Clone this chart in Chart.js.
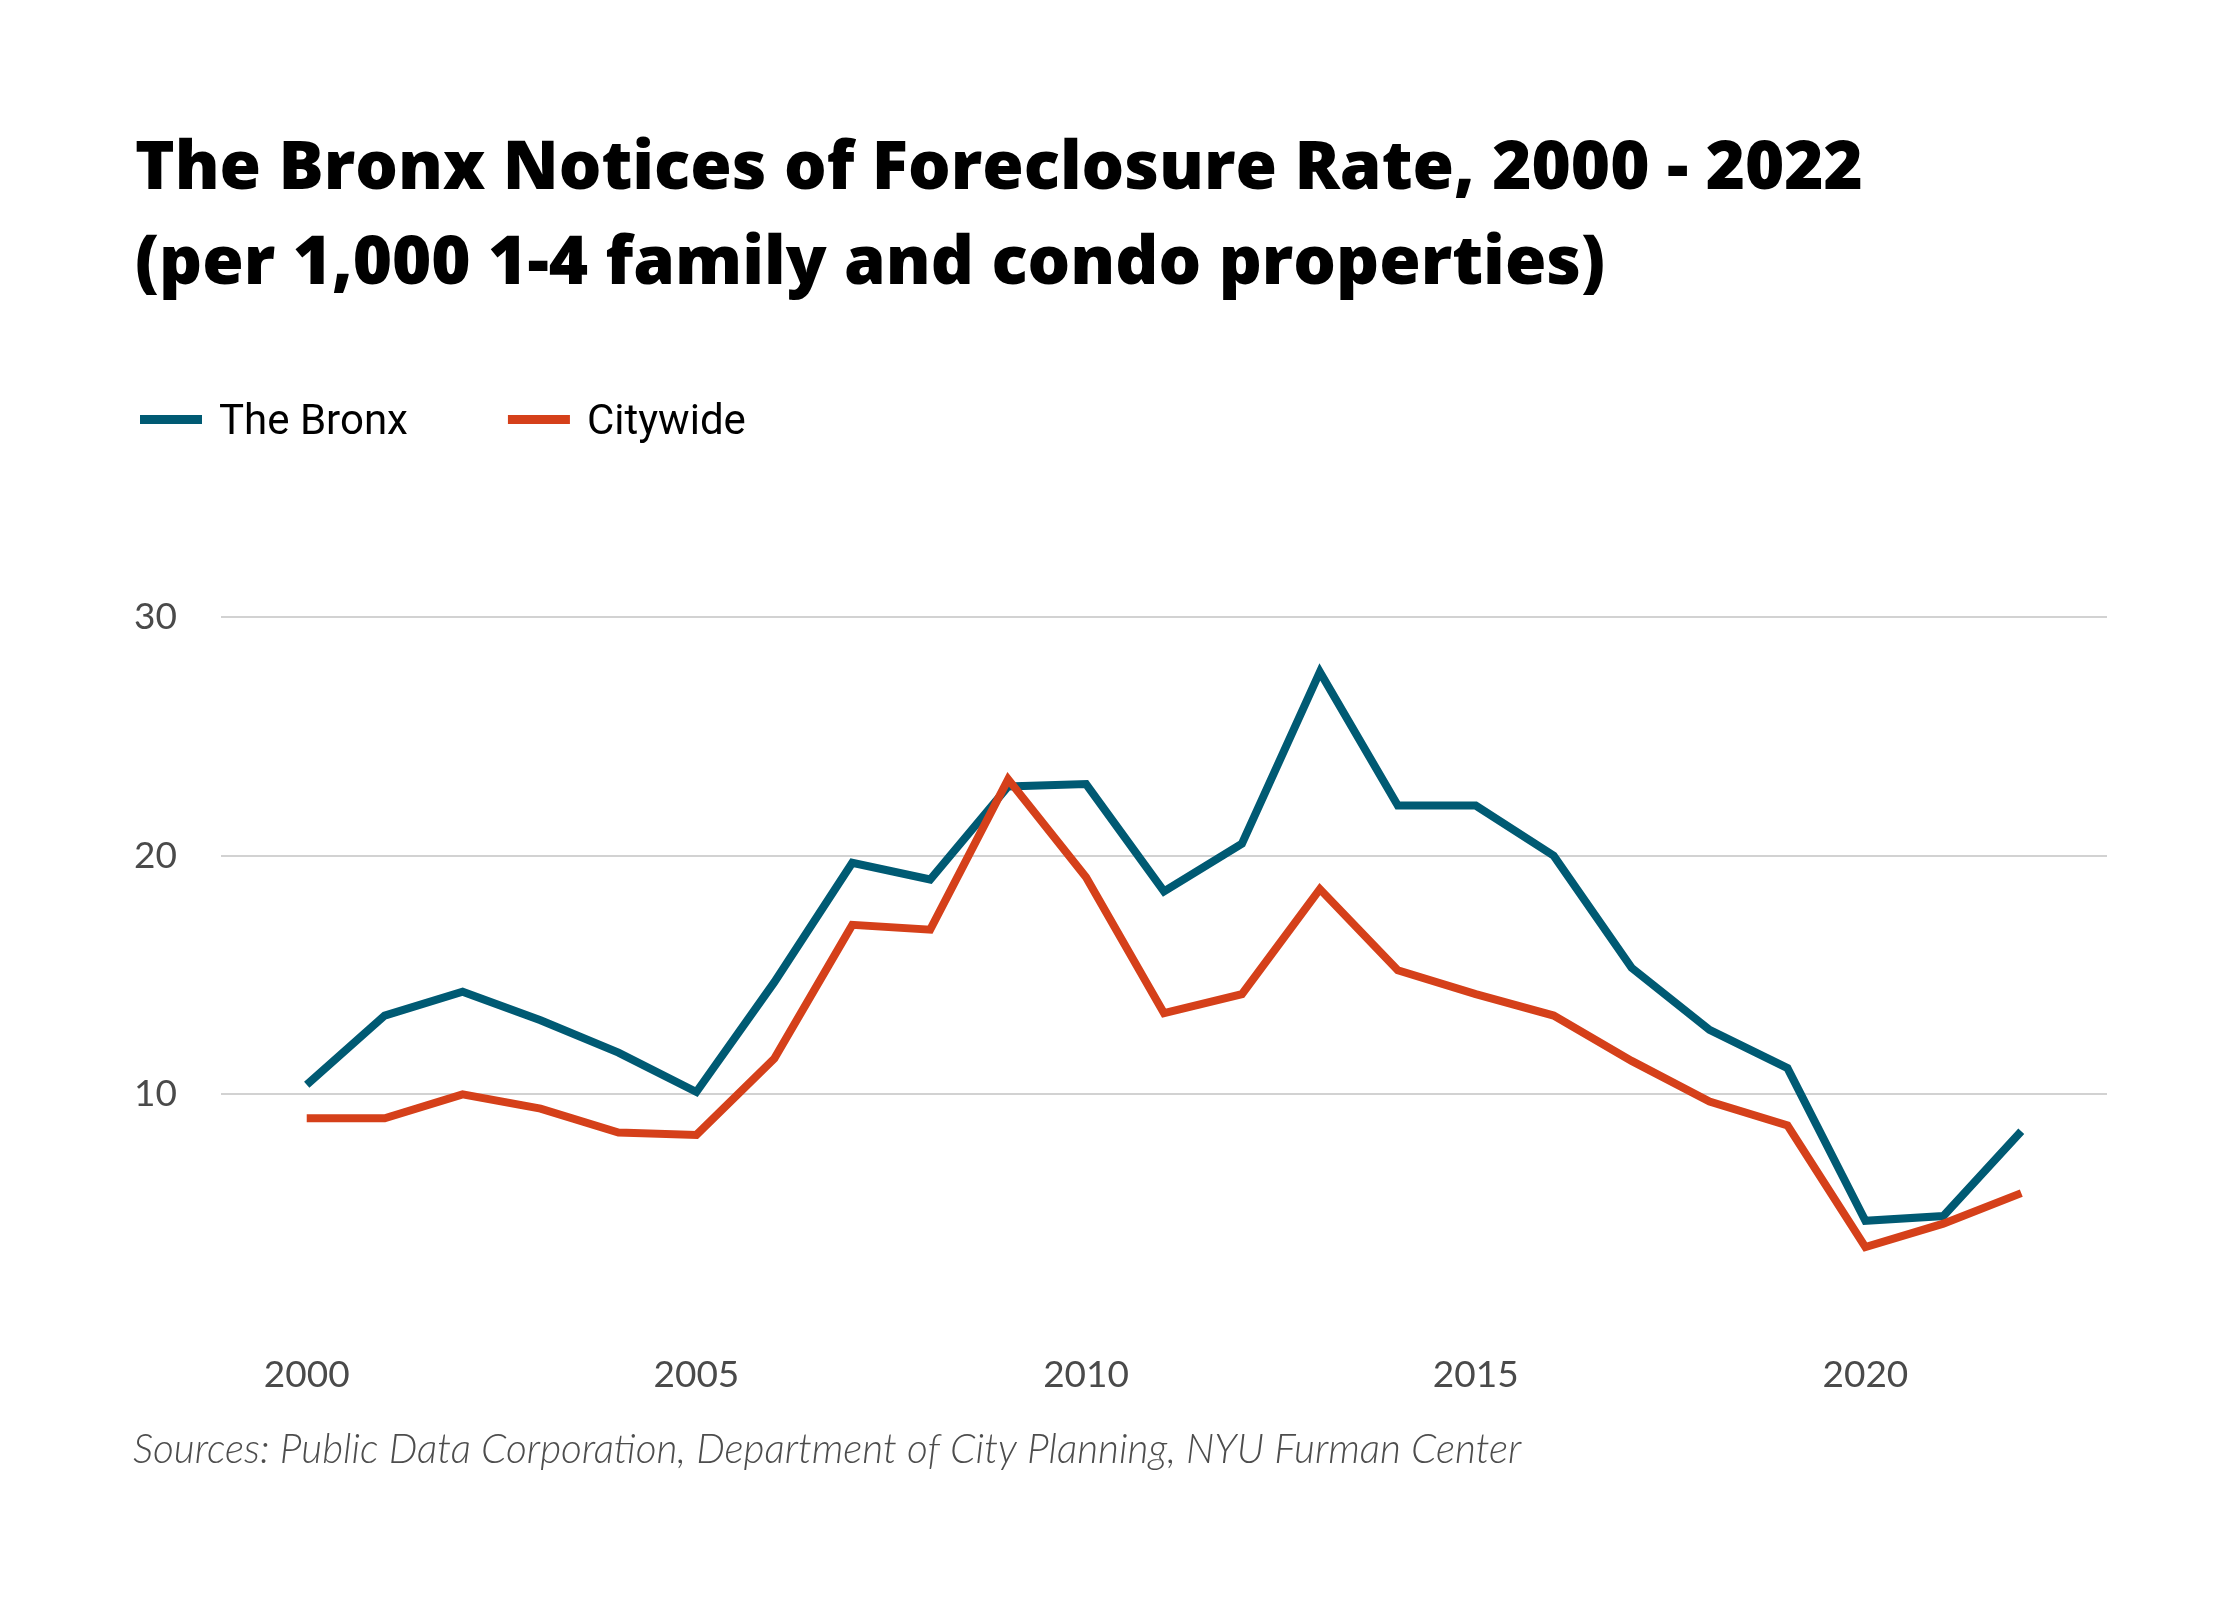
<!DOCTYPE html>
<html>
<head>
<meta charset="utf-8">
<script src="https://cdn.jsdelivr.net/npm/chart.js@4"></script>
<style>
  html, body { margin: 0; padding: 0; background: #ffffff; }
  #wrap { position: relative; width: 2240px; height: 1600px; }
  canvas { display: block; }
</style>
</head>
<body>
<div id="wrap"><canvas id="c" width="2240" height="1600"></canvas></div>
<script>
// ---- data ----
const years = [2000,2001,2002,2003,2004,2005,2006,2007,2008,2009,2010,2011,2012,2013,2014,2015,2016,2017,2018,2019,2020,2021,2022];
const bronx = [10.4,13.3,14.3,13.1,11.75,10.1,14.7,19.7,19.0,22.9,23.0,18.5,20.5,27.7,22.1,22.1,20.0,15.3,12.7,11.1,4.7,4.9,8.45];
const citywide = [9.0,9.0,10.0,9.4,8.4,8.3,11.5,17.1,16.9,23.2,19.1,13.4,14.2,18.6,15.2,14.2,13.3,11.4,9.7,8.7,3.6,4.58,5.86];
const xTickYears = [2000,2005,2010,2015,2020];
const yTickValues = [10,20,30];
const seriesNames = ['The Bronx','Citywide'];
const titleLines = ['The Bronx Notices of Foreclosure Rate, 2000 - 2022','(per 1,000 1-4 family and condo properties)'];
const sourceText = 'Sources: Public Data Corporation, Department of City Planning, NYU Furman Center';

const COLORS = { bronx: '#005a73', city: '#d5401a', grid: '#d2d2d2', tick: '#4a4a4a' };

function toPoints(arr){ return years.map((yr,i)=>({x: yr, y: arr[i]})); }

function fitSize(ctx, text, spec, family, targetW, base){
  ctx.font = spec + ' ' + base + 'px ' + family;
  const w = ctx.measureText(text).width;
  return base * targetW / w;
}

const decor = {
  id: 'decor',
  afterDraw(chart){
    const ctx = chart.ctx;
    ctx.save();
    // title
    const tFam = '"Open Sans", Lato, sans-serif';
    const tSize = fitSize(ctx, titleLines[0], '800', tFam, 1728, 68);
    ctx.font = '800 ' + tSize + 'px ' + tFam;
    ctx.fillStyle = '#000000';
    ctx.textBaseline = 'alphabetic';
    ctx.textAlign = 'left';
    ctx.fillText(titleLines[0], 135, 189);
    ctx.fillText(titleLines[1], 135, 284);
    // legend (from datasets)
    const lFam = 'Roboto, "Noto Sans", sans-serif';
    const lSize = fitSize(ctx, seriesNames[0], 'normal', lFam, 189, 44);
    ctx.font = 'normal ' + lSize + 'px ' + lFam;
    let x = 140;
    const legendOrder = [0,1];
    legendOrder.forEach(idx => {
      const ds = chart.data.datasets[idx];
      ctx.fillStyle = ds.borderColor;
      ctx.fillRect(x, 415, 62, 9);
      ctx.fillStyle = '#000000';
      ctx.fillText(ds.label, x + 79, 434);
      x = x + 79 + ctx.measureText(ds.label).width + 100;
    });
    // source
    const sFam = 'Lato, "Open Sans", sans-serif';
    const sSize = fitSize(ctx, sourceText, 'italic 300', sFam, 1389, 36);
    ctx.font = 'italic 300 ' + sSize + 'px ' + sFam;
    ctx.fillStyle = '#4d4d4d';
    ctx.fillText(sourceText, 133, 1463);
    ctx.restore();
  }
};

new Chart(document.getElementById('c'), {
  type: 'line',
  data: {
    datasets: [
      { label: seriesNames[0], data: toPoints(bronx), borderColor: COLORS.bronx, backgroundColor: COLORS.bronx,
        borderWidth: 8, pointRadius: 0, pointHoverRadius: 0, tension: 0, borderJoinStyle: 'miter', borderCapStyle: 'butt', order: 1 },
      { label: seriesNames[1], data: toPoints(citywide), borderColor: COLORS.city, backgroundColor: COLORS.city,
        borderWidth: 8, pointRadius: 0, pointHoverRadius: 0, tension: 0, borderJoinStyle: 'miter', borderCapStyle: 'butt', order: 0 }
    ]
  },
  options: {
    responsive: false,
    devicePixelRatio: 1,
    animation: false,
    events: [],
    layout: { padding: { left: 0, right: 133, top: 617, bottom: 187 } },
    plugins: { legend: { display: false }, title: { display: false }, tooltip: { enabled: false } },
    scales: {
      x: {
        type: 'linear', min: 1998.9, max: 2023.1,
        afterBuildTicks: (s) => { s.ticks = xTickYears.map(v => ({ value: v })); },
        afterFit: (s) => { s.height = 80; },
        grid: { display: false, drawTicks: false },
        border: { display: false },
        ticks: { padding: 20, color: COLORS.tick, font: { family: 'Lato, "Open Sans", sans-serif', size: 37 },
                 maxRotation: 0, autoSkip: false, callback: (v) => String(v) }
      },
      y: {
        min: 0, max: 30,
        afterBuildTicks: (s) => { s.ticks = [0].concat(yTickValues).map(v => ({ value: v })); },
        afterFit: (s) => { s.width = 221; },
        grid: { drawTicks: false, lineWidth: 2, color: (c) => (c.tick && c.tick.value === 0) ? 'rgba(0,0,0,0)' : COLORS.grid },
        border: { display: false },
        ticks: { padding: 44, color: COLORS.tick, font: { family: 'Lato, "Open Sans", sans-serif', size: 37 },
                 callback: (v) => v === 0 ? '' : String(v) }
      }
    }
  },
  plugins: [decor]
});
</script>
</body>
</html>
